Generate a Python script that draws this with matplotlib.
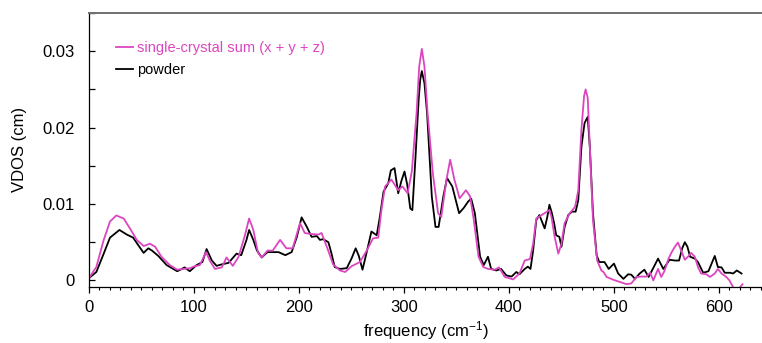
import matplotlib
matplotlib.use("Agg")
import matplotlib.pyplot as plt
import numpy as np
from matplotlib.ticker import MultipleLocator

# frequency (cm-1) / VDOS (units of 1e-3 cm)
powder_freq = [0, 7, 14, 20, 29, 36, 42, 47, 52, 56.5, 60, 66, 74, 84, 88.5, 91, 96,
               102.5, 108, 112, 117, 121.5, 126.5, 133, 140.5, 145, 150, 152.5, 156.5,
               160, 164.5, 170, 175, 180.5, 187, 193, 198, 202.5, 207.5, 212, 217, 220,
               223, 228, 231, 234, 239, 245.5, 250, 254, 257, 260.5, 264.5, 269, 274,
               277, 280.5, 285, 287.5, 291, 294.5, 297.5, 300.5, 303, 306, 308, 311,
               314, 315.5, 317, 319.5, 322, 326.5, 330, 333, 337.5, 341, 346, 352.5,
               357, 361, 364, 367.5, 372.5, 376, 380, 383, 388, 392.5, 397.5, 402.5,
               407, 410, 415, 418, 420.5, 423, 426, 429, 432, 434, 436.5, 438.5, 440.5,
               443, 445, 448, 450, 453, 456.5, 460, 463.5, 466, 469, 472, 475, 477,
               480, 483.5, 486, 491, 495, 500, 504, 509, 513.5, 516.5, 520, 524.5, 529,
               533, 537, 542, 547, 550, 553, 558, 562, 565, 567.5, 570, 572.5, 577,
               580, 585, 590, 593, 596, 599, 602.5, 605.5, 610.5, 613.5, 617, 621.5]
powder_vdos = [0.3, 1.1, 3.5, 5.6, 6.6, 6.0, 5.6, 4.6, 3.6, 4.2, 3.9, 3.2, 2.0, 1.2, 1.5,
               1.7, 1.2, 2.0, 2.4, 4.1, 2.6, 1.9, 2.1, 2.3, 3.5, 3.3, 5.3, 6.6, 5.3, 3.9,
               3.0, 3.7, 3.7, 3.7, 3.3, 3.7, 5.7, 8.25, 7.0, 5.7, 5.8, 5.3, 5.4, 5.0,
               3.5, 1.75, 1.5, 1.6, 2.85, 4.2, 3.2, 1.4, 3.7, 6.4, 5.9, 8.3, 11.6, 12.7,
               14.4, 14.7, 11.4, 13.0, 14.25, 12.6, 9.4, 9.2, 16.2, 23.7, 26.3, 27.4,
               25.8, 21.9, 11.0, 7.0, 7.0, 11.0, 13.4, 12.3, 8.8, 9.5, 10.3, 10.7, 8.8,
               3.1, 2.0, 3.1, 1.5, 1.3, 1.5, 0.65, 0.5, 1.1, 0.8, 1.5, 1.8, 1.5, 3.9,
               7.9, 8.55, 7.5, 6.8, 8.3, 9.9, 9.0, 7.5, 5.9, 5.7, 4.4, 7.0, 8.55, 9.0,
               9.0, 10.5, 17.5, 20.6, 21.4, 17.5, 8.8, 3.3, 2.4, 2.4, 1.5, 2.2, 0.9,
               0.2, 0.8, 0.75, 0.2, 0.9, 1.4, 0.45, 1.5, 2.85, 1.5, 2.1, 2.7, 2.6, 2.6,
               4.2, 5.0, 4.4, 3.1, 2.85, 2.4, 1.0, 1.2, 2.2, 3.2, 1.75, 1.7, 1.0, 1.0,
               0.9, 1.3, 0.9]

crystal_freq = [0, 7, 14, 20, 26, 33, 39, 45.5, 52, 58, 63, 69, 77, 84, 90, 96.5, 99.5,
                105.5, 111.5, 115, 120, 126.5, 131, 137, 142.5, 148.5, 152.5, 156.5, 161,
                164.5, 170, 175, 182, 188, 194, 201, 205.5, 210, 218.5, 221.5, 226.5,
                232.5, 239, 244, 250, 258, 264.5, 270.5, 275.5, 278.5, 282, 288, 294.5,
                298.5, 303.5, 307.5, 312, 314.5, 317, 319.5, 322.5, 327.5, 332.5, 335.5,
                340.5, 344, 348, 353, 359, 363, 366.5, 371, 375.5, 380, 386.5, 390.5,
                396, 404, 410, 415, 420, 423, 426, 429.5, 434, 438.5, 440.5, 443.5, 447,
                450, 453, 458, 463, 466, 469, 471.5, 473, 475, 477, 480, 484, 488, 490,
                493, 499, 505.5, 512, 516.5, 521.5, 526.5, 531, 534.5, 537.5, 542, 545,
                548, 552, 555, 558, 561, 564, 567.5, 570.5, 573.5, 577, 580, 583, 588,
                591.5, 596, 599, 602.5, 607, 610, 613.5, 617, 620, 622.5]
crystal_vdos = [0.3, 1.75, 5.3, 7.7, 8.5, 8.1, 6.8, 5.3, 4.5, 4.8, 4.4, 3.1, 2.0, 1.4,
                1.5, 1.6, 1.8, 2.0, 3.7, 2.6, 1.5, 1.7, 3.0, 1.9, 3.1, 5.9, 8.1, 6.6, 3.6,
                3.0, 3.9, 3.9, 5.3, 4.2, 4.2, 7.5, 6.2, 6.1, 6.0, 6.2, 4.4, 2.1, 1.3, 1.1,
                1.85, 2.4, 3.9, 5.5, 5.6, 9.2, 12.3, 13.2, 11.8, 12.3, 11.4, 14.3, 21.9,
                28.0, 30.3, 28.0, 21.9, 14.0, 8.8, 8.3, 13.2, 15.8, 13.2, 10.75, 11.8,
                11.0, 7.9, 3.1, 1.75, 1.5, 1.4, 1.7, 0.45, 0.13, 0.9, 2.6, 2.8, 4.8, 8.1,
                8.4, 8.8, 9.2, 8.3, 5.7, 3.5, 4.8, 7.5, 8.8, 9.65, 11.8, 19.7, 24.1,
                25.0, 23.9, 17.5, 7.9, 2.6, 1.3, 1.1, 0.45, 0.1, -0.2, -0.5, -0.4, 0.45,
                0.5, 0.5, 1.0, 0.0, 1.5, 0.45, 1.2, 2.85, 3.7, 4.4, 4.95, 3.9, 2.7, 3.1,
                3.6, 3.1, 1.75, 0.9, 0.8, 0.45, 0.9, 1.5, 0.9, 0.45, 0.0, -0.9, -1.3,
                -0.9, -0.5]

pink = "#dd45c0"

plt.rcParams["font.family"] = ["Liberation Sans", "DejaVu Sans"]
plt.rcParams["mathtext.default"] = "regular"

fig = plt.figure(figsize=(7.62, 3.43), dpi=100)
ax = fig.add_axes([89 / 762, 1 - 286.5 / 343, 1 - 89 / 762, (286.5 - 13) / 343])

ax.plot(powder_freq, np.array(powder_vdos) * 1e-3, color="black", lw=1.3, label="powder")
ax.plot(crystal_freq, np.array(crystal_vdos) * 1e-3, color=pink, lw=1.3,
        label="single-crystal sum (x + y + z)")

ax.set_xlim(0, 641)
ax.set_ylim(-0.0008, 0.035)

ax.xaxis.set_major_locator(MultipleLocator(100))
ax.xaxis.set_minor_locator(MultipleLocator(10))
ax.yaxis.set_minor_locator(MultipleLocator(0.005))
ax.set_yticks([0, 0.01, 0.02, 0.03])
ax.set_yticklabels(["0", "0.01", "0.02", "0.03"])

ax.tick_params(axis="x", which="major", direction="out", length=4.5, width=0.9,
               labelsize=12, pad=5)
ax.tick_params(axis="x", which="minor", direction="out", length=2.5, width=0.8)
ax.tick_params(axis="y", which="both", direction="in", length=4.5, width=0.9,
               labelsize=12, pad=10)

ax.spines["right"].set_visible(False)
ax.spines["top"].set_color("#707070")
ax.spines["top"].set_linewidth(1.4)
ax.spines["left"].set_linewidth(0.9)
ax.spines["bottom"].set_linewidth(0.9)

ax.set_xlabel("frequency (cm$^{-1}$)", fontsize=12, labelpad=3)
ax.set_ylabel("VDOS (cm)", fontsize=12, labelpad=11)

handles, labels = ax.get_legend_handles_labels()
leg = ax.legend(handles[::-1], labels[::-1], loc="upper left", frameon=False,
                fontsize=10.5, handlelength=1.15, handletextpad=0.25,
                labelspacing=0.55, bbox_to_anchor=(0.021, 0.945),
                labelcolor=[pink, "black"])

fig.savefig("out.png", dpi=100)
